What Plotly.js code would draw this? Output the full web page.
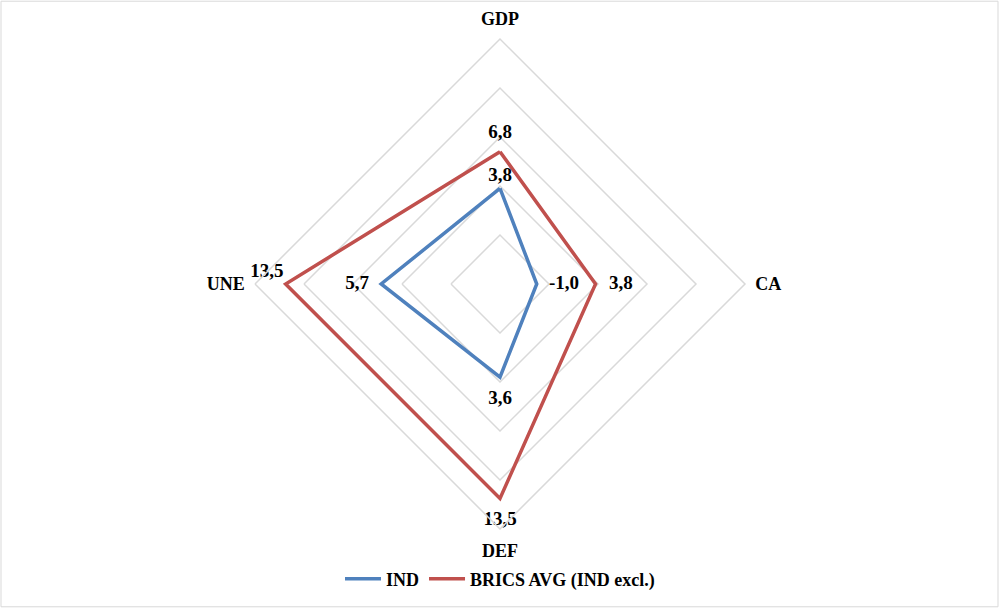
<!DOCTYPE html>
<html>
<head>
<meta charset="utf-8">
<script src="https://cdn.plot.ly/plotly-3.0.1.min.js"></script>
<style>
html,body{margin:0;padding:0;background:#fff;}
#chart{width:1000px;height:608px;}
</style>
</head>
<body>
<div id="chart"></div>
<script>
const categories = ["GDP", "CA", "DEF", "UNE"];
const indValues = [3.8, -1.0, 3.6, 5.7];
const bricsValues = [6.8, 3.8, 13.5, 13.5];
const seriesNames = ["IND", "BRICS AVG (IND excl.)"];
const indLabelPos = ["top center", "middle right", "bottom center", "middle left"];
const bricsLabelPos = ["top center", "middle right", "bottom center", "top left"];
const indLabelGap = [3, 18, 18, 18];
const bricsLabelGap = [12, 20, 18, 2];

const fmt = v => v.toFixed(1).replace(".", ",");
const close = a => a.concat([a[0]]);
const labelFont = {family: "Liberation Serif", size: 19, color: "#000", weight: "bold"};

const traces = [
  {type: "scatterpolar", mode: "lines", name: seriesNames[0],
   r: close(indValues), theta: close(categories),
   line: {color: "#4f81bd", width: 3.5}, hoverinfo: "skip"},
  {type: "scatterpolar", mode: "lines", name: seriesNames[1],
   r: close(bricsValues), theta: close(categories),
   line: {color: "#c0504d", width: 3.5}, hoverinfo: "skip"},
  {type: "scatterpolar", mode: "markers+text", showlegend: false,
   r: indValues, theta: categories, text: indValues.map(fmt),
   marker: {size: indLabelGap, color: "rgba(0,0,0,0)", opacity: 0, line: {width: 0}},
   textposition: indLabelPos, textfont: labelFont, cliponaxis: false, hoverinfo: "skip"},
  {type: "scatterpolar", mode: "markers+text", showlegend: false,
   r: bricsValues, theta: categories, text: bricsValues.map(fmt),
   marker: {size: bricsLabelGap, color: "rgba(0,0,0,0)", opacity: 0, line: {width: 0}},
   textposition: bricsLabelPos, textfont: labelFont, cliponaxis: false, hoverinfo: "skip"}
];

const layout = {
  width: 1000, height: 608,
  margin: {l: 0, r: 0, t: 0, b: 0},
  paper_bgcolor: "#fff",
  font: {family: "Liberation Serif", size: 18, color: "#000"},
  showlegend: true,
  legend: {orientation: "h", x: 0.5, xanchor: "center", y: 0.017, yanchor: "bottom",
           font: {family: "Liberation Serif", size: 18, color: "#000", weight: "bold"},
           itemwidth: 36, tracegroupgap: 0},
  polar: {
    domain: {x: [0.255, 0.745], y: [0.1299, 0.9359]},
    bgcolor: "rgba(0,0,0,0)",
    gridshape: "linear",
    radialaxis: {range: [-4, 16], dtick: 4, tick0: 0, showticklabels: false, ticks: "",
                 showline: false, gridcolor: "#d9d9d9", gridwidth: 1.5, angle: 90},
    angularaxis: {rotation: 90, direction: "clockwise", showgrid: false,
                  ticks: "outside", ticklen: 6, tickcolor: "rgba(0,0,0,0)",
                  linecolor: "#d9d9d9", linewidth: 1.5,
                  tickfont: {family: "Liberation Serif", size: 18, color: "#000", weight: "bold"}}
  },
  shapes: [{type: "rect", xref: "paper", yref: "paper", x0: 0.001, x1: 0.998, y0: 0.002, y1: 0.998,
            line: {color: "#d9d9d9", width: 1}}]
};

// Plotly's inner-polygon check wrongly hides labels when the radial range starts below 0
function showLabels() {
  document.querySelectorAll("#chart .textpoint").forEach(el => {
    el.removeAttribute("display");
    el.style.display = "";
  });
}

Plotly.newPlot("chart", traces, layout, {displayModeBar: false, staticPlot: true}).then(gd => {
  showLabels();
  gd.on("plotly_afterplot", showLabels);
});
</script>
</body>
</html>
